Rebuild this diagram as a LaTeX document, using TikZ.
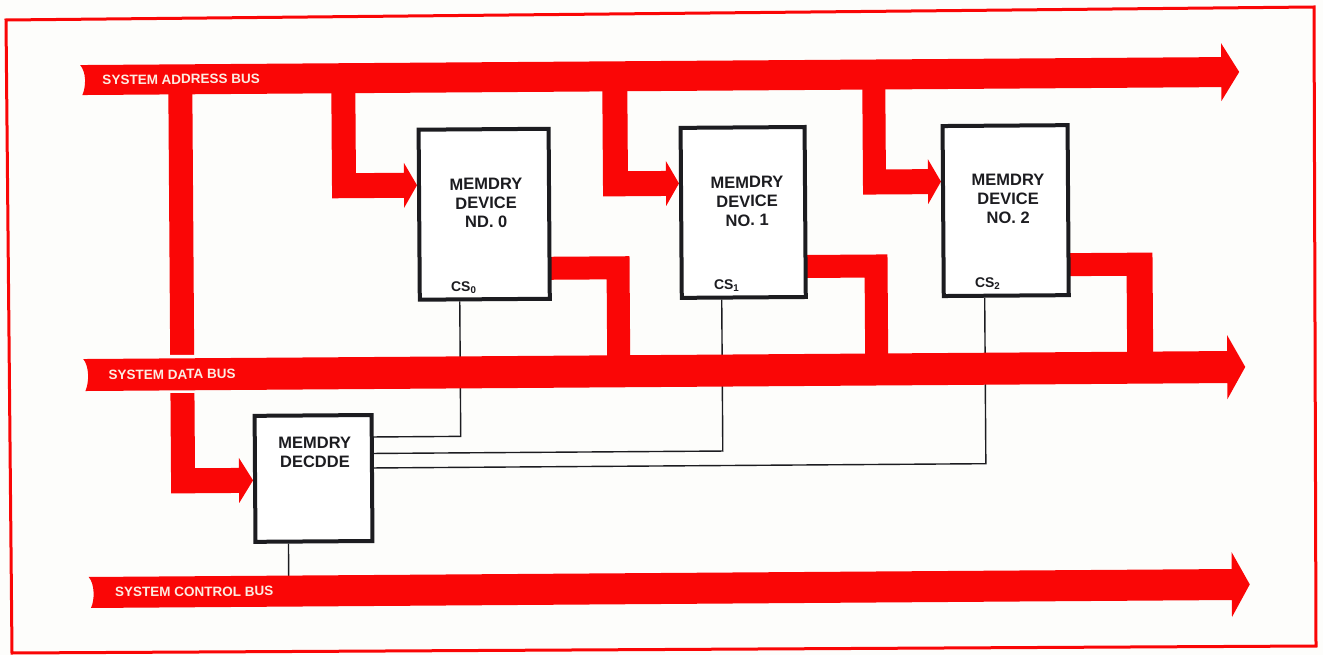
\documentclass[tikz,border=0pt]{standalone}
\usepackage{fontspec}
\setmainfont{Liberation Sans}
\pgfdeclarelayer{background}
\pgfsetlayers{background,main}
\definecolor{busred}{RGB}{250,6,6}
\definecolor{buslabel}{RGB}{252,236,226}
\definecolor{ink}{RGB}{28,28,32}
\definecolor{paper}{RGB}{253,253,251}
\begin{document}
\begin{tikzpicture}[x=1pt,y=-1pt,
 bus/.style={fill=busred},
 gap/.style={fill=paper},
 box/.style={draw=ink, line width=4pt, fill=white, inner sep=0pt, outer sep=0pt},
 boxtext/.style={text=ink, font=\bfseries\fontsize{16.5}{19}\selectfont, align=center, inner sep=0pt},
 buslbl/.style={text=buslabel, font=\bfseries\fontsize{13.5}{16}\selectfont, anchor=west, inner sep=0pt},
 cslbl/.style={text=ink, font=\bfseries\fontsize{14}{16}\selectfont, inner sep=0pt},
 wire/.style={draw=ink, line width=1.4pt, line join=miter}]

\begin{pgfonlayer}{background}
 \fill[paper] (0,0) rectangle (1323,655);
\end{pgfonlayer}
\useasboundingbox (0,0) rectangle (1323,655);
\draw[busred, line width=3pt, line join=miter] (6,20) -- (1314,7) -- (1316,646) -- (12,653) -- cycle;

\begin{scope}[rotate around={0.4:(661,330)}, transform shape]
 % boxes
 \node[box, minimum width=130pt, minimum height=170pt] (dev0) at (485,213) {};
 \node[box, minimum width=124pt, minimum height=170pt] (dev1) at (744,213) {};
 \node[box, minimum width=125pt, minimum height=170pt] (dev2) at (1006.5,213) {};
 \node[box, minimum width=117pt, minimum height=126pt] (dec) at (312.5,476) {};

 \node[boxtext] (t0) at (487,202) {MEMDRY\\DEVICE\\ND. 0};
 \node[boxtext] (t1) at (748,202) {MEMDRY\\DEVICE\\NO. 1};
 \node[boxtext] (t2) at (1009,201) {MEMDRY\\DEVICE\\NO. 2};
 \node[boxtext] (td) at (314,450) {MEMDRY\\DECDDE};

 \node[cslbl] (cs0) at (464,286) {CS\textsubscript{0}};
 \node[cslbl] (cs1) at (727,286) {CS\textsubscript{1}};
 \node[cslbl] (cs2) at (988,286) {CS\textsubscript{2}};

 % wire points
 \coordinate (p0) at (460,300);
 \coordinate (p1) at (722,300);
 \coordinate (p2) at (985,300);
 \coordinate (k0) at (460,435);
 \coordinate (k1) at (722,451.5);
 \coordinate (k2) at (985,466);
 \coordinate (q0) at (373,435);
 \coordinate (q1) at (373,451.5);
 \coordinate (q2) at (373,466);
 \coordinate (r0) at (287,541);
 \coordinate (r1) at (287,580);

 \node[buslbl] (la) at (104,76) {SYSTEM ADDRESS BUS};
 \node[buslbl] (ld) at (108,371) {SYSTEM DATA BUS};
 \node[buslbl] (lc) at (113,588.5) {SYSTEM CONTROL BUS};

 \begin{pgfonlayer}{background}
  % wires (behind the buses)
  \draw[wire] (q0) -- (k0) -- (p0);
  \draw[wire] (q1) -- (k1) -- (p1);
  \draw[wire] (q2) -- (k2) -- (p2);
  \draw[wire] (r0) -- (r1);

  % address bus feeders
  \fill[bus] (170,80) -- (194,80) -- (194,465) -- (238,465) -- (238,455) -- (252,477.5) -- (238,500) -- (238,490) -- (170,490) -- cycle;
  \fill[gap] (166,351.5) rectangle (198,389.5);
  \fill[bus] (333,80) -- (357,80) -- (357,171) -- (405,171) -- (405,161) -- (418,183.5) -- (405,206) -- (405,196) -- (333,196) -- cycle;
  \fill[bus] (604,80) -- (629,80) -- (629,171) -- (667,171) -- (667,161) -- (680,183.5) -- (667,206) -- (667,196) -- (604,196) -- cycle;
  \fill[bus] (864,80) -- (887,80) -- (887,171) -- (929,171) -- (929,161) -- (942,183.5) -- (929,206) -- (929,196) -- (864,196) -- cycle;

  % data connectors
  \fill[bus] (550,256) -- (630,256) -- (630,360) -- (607,360) -- (607,279) -- (550,279) -- cycle;
  \fill[bus] (806,256) -- (888,256) -- (888,360) -- (865,360) -- (865,279) -- (806,279) -- cycle;
  \fill[bus] (1069,256) -- (1153,256) -- (1153,360) -- (1127,360) -- (1127,279) -- (1069,279) -- cycle;

  % buses
  \fill[bus] (82,61) .. controls (88,68) and (88,82) .. (84,91) -- (1223,91) -- (1223,105) -- (1241,76) -- (1223,47) -- (1223,61) -- cycle;
  \fill[bus] (83,355) .. controls (89,362) and (89,378) .. (85,387) -- (1227,387) -- (1227,403) -- (1245,371) -- (1227,339) -- (1227,355) -- cycle;
  \fill[bus] (87,573) .. controls (93,580) and (93,596) .. (89,604) -- (1230,604) -- (1230,621) -- (1248,588.5) -- (1230,556) -- (1230,573) -- cycle;
 \end{pgfonlayer}
\end{scope}
\end{tikzpicture}
\end{document}
